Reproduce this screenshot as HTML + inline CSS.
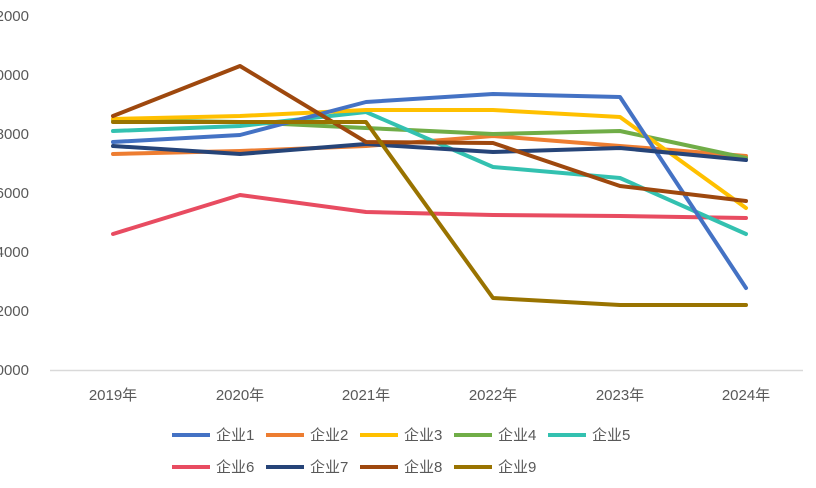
<!DOCTYPE html><html><head><meta charset="utf-8"><style>body{margin:0;background:#fff}svg text{font-family:"Liberation Sans","Noto Sans CJK SC",sans-serif;fill:#595959;font-size:15px}</style></head><body>
<svg width="816" height="483" xmlns="http://www.w3.org/2000/svg">
<g text-anchor="end">
<text x="29" y="21">12000</text><text x="29" y="80">10000</text><text x="29" y="139">8000</text><text x="29" y="198">6000</text><text x="29" y="257">4000</text><text x="29" y="316">2000</text><text x="29" y="375">0000</text></g>
<line x1="50" y1="370.5" x2="803" y2="370.5" stroke="#d9d9d9" stroke-width="1.5"/>
<g text-anchor="middle">
<text x="113" y="400">2019年</text><text x="240" y="400">2020年</text><text x="366" y="400">2021年</text><text x="493" y="400">2022年</text><text x="620" y="400">2023年</text><text x="746" y="400">2024年</text></g>
<g fill="none" stroke-width="4" stroke-linejoin="round" stroke-linecap="round">
<polyline stroke="#ED7D31" points="113,154 240,151 366,146 493,136 620,146 746,156"/>
<polyline stroke="#70AD47" points="113,120 240,122 366,128 493,134 620,131 746,158"/>
<polyline stroke="#E84C61" points="113,234 240,195 366,212 493,215 620,216 746,218"/>
<polyline stroke="#33C1B0" points="113,131 240,126 366,112 493,167 620,178 746,234"/>
<polyline stroke="#FFC000" points="113,119 240,116 366,110 493,110 620,117 746,208"/>
<polyline stroke="#4472C4" points="113,142 240,135 366,102 493,94 620,97 746,288"/>
<polyline stroke="#264478" points="113,146 240,154 366,144 493,152 620,148 746,160"/>
<polyline stroke="#9E480E" points="113,116 240,66 366,142 493,143 620,186 746,201"/>
<polyline stroke="#997300" points="113,122 240,122 366,122 493,298 620,305 746,305"/>
</g>
<g stroke-width="4">
<line x1="172" y1="435" x2="210" y2="435" stroke="#4472C4"/><line x1="266" y1="435" x2="304" y2="435" stroke="#ED7D31"/><line x1="360" y1="435" x2="398" y2="435" stroke="#FFC000"/><line x1="454" y1="435" x2="492" y2="435" stroke="#70AD47"/><line x1="548" y1="435" x2="586" y2="435" stroke="#33C1B0"/>
<line x1="172" y1="467" x2="210" y2="467" stroke="#E84C61"/><line x1="266" y1="467" x2="304" y2="467" stroke="#264478"/><line x1="360" y1="467" x2="398" y2="467" stroke="#9E480E"/><line x1="454" y1="467" x2="492" y2="467" stroke="#997300"/>
</g>
<text x="216" y="440">企业1</text><text x="310" y="440">企业2</text><text x="404" y="440">企业3</text><text x="498" y="440">企业4</text><text x="592" y="440">企业5</text>
<text x="216" y="472">企业6</text><text x="310" y="472">企业7</text><text x="404" y="472">企业8</text><text x="498" y="472">企业9</text>
</svg></body></html>
